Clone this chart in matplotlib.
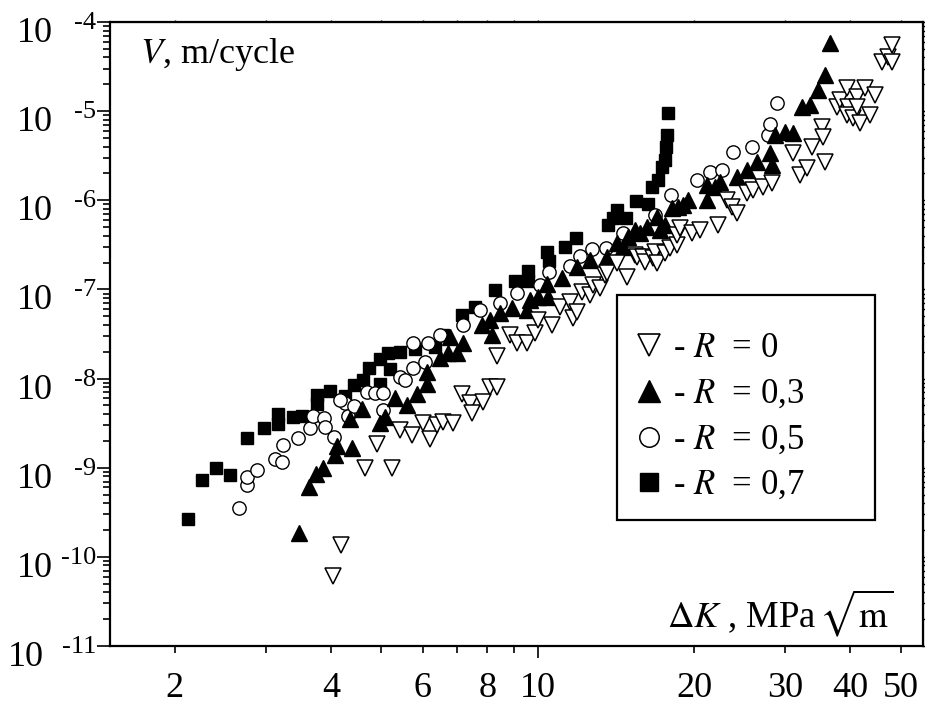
import matplotlib
matplotlib.use("Agg")
import matplotlib.pyplot as plt
from matplotlib.patches import Rectangle
from matplotlib.transforms import offset_copy

plt.rcParams["font.family"] = ["Liberation Serif", "DejaVu Serif"]
plt.rcParams["mathtext.fontset"] = "stix"

# R = 0 (open down triangles)
dk_r0 = [4.03, 4.18, 4.65, 5.24, 4.90, 5.43, 5.72, 6.21, 6.01, 6.40, 6.57, 6.87,
         7.15, 7.40, 7.47, 7.84, 8.09, 8.35, 8.35, 8.84, 9.12, 9.53, 9.88, 10.0,
         10.66, 11.04, 11.54, 11.69, 11.90, 12.17, 12.61, 12.78, 13.18, 13.48, 13.60,
         14.22, 14.86, 15.40, 15.54, 15.95, 16.10, 16.68, 16.83, 16.98, 17.59, 17.98,
         18.55, 18.55, 18.80, 19.82, 20.54, 22.25, 23.16, 23.67, 24.20, 25.30, 25.99,
         27.17, 28.28, 31.03, 32.01, 33.02, 33.76, 35.29, 35.45, 35.76, 37.72, 38.22,
         39.43, 39.6, 39.43, 40.49, 41.22, 41.22, 41.77, 42.71, 43.67, 44.65, 46.05,
         47.30, 48.15, 48.15]
v_r0 = [6.1e-11, 1.36e-10, 9.9e-10, 9.9e-10, 1.84e-9, 2.65e-9, 2.33e-9, 2.10e-9,
        3.17e-9, 3.01e-9, 3.26e-9, 3.17e-9, 6.71e-9, 5.32e-9, 4.11e-9, 5.46e-9,
        8.04e-9, 8.04e-9, 1.79e-8, 3.08e-8, 2.51e-8, 2.51e-8, 3.24e-8, 4.54e-8,
        3.99e-8, 6.35e-8, 7.22e-8, 4.78e-8, 5.58e-8, 9.36e-8, 8.66e-8, 1.12e-7,
        1.04e-7, 1.45e-7, 1.53e-7, 1.98e-7, 1.38e-7, 2.43e-7, 2.31e-7, 2.31e-7,
        2.03e-7, 2.25e-7, 2.63e-7, 1.98e-7, 2.56e-7, 2.91e-7, 3.15e-7, 4.08e-7,
        4.89e-7, 4.29e-7, 4.64e-7, 5.28e-7, 1.01e-6, 8.41e-7, 7.20e-7, 1.21e-6,
        1.30e-6, 1.41e-6, 1.56e-6, 3.39e-6, 1.92e-6, 2.30e-6, 3.96e-6, 6.64e-6,
        5.13e-6, 2.69e-6, 1.11e-5, 1.33e-5, 1.82e-5, 1.11e-5, 9.05e-6, 8.38e-6,
        1.44e-5, 1.11e-5, 7.36e-6, 1.82e-5, 9.05e-6, 1.52e-5, 3.56e-5, 4.05e-5,
        3.56e-5, 5.52e-5]

# R = 0.3 (filled up triangles)
dk_r3 = [3.47, 3.62, 3.74, 3.86, 4.07, 4.10, 4.38, 4.35, 4.59, 4.97, 5.08, 5.31,
         5.60, 5.85, 6.12, 6.12, 6.48, 6.71, 6.99, 6.77, 7.18, 7.81, 8.09, 8.16,
         8.46, 8.92, 9.53, 9.66, 10.0, 10.47, 10.42, 11.14, 11.90, 12.61, 13.60,
         14.22, 14.60, 14.93, 15.40, 15.74, 16.24, 16.98, 17.20, 17.59, 18.14, 18.63,
         19.05, 19.47, 21.19, 21.19, 21.95, 22.44, 24.20, 25.30, 26.45, 28.28, 28.03,
         28.65, 30.0, 31.03, 32.30, 33.46, 34.67, 35.76, 36.56]
v_r3 = [1.85e-10, 6.07e-10, 8.50e-10, 9.92e-10, 1.39e-9, 1.75e-9, 1.66e-9, 3.52e-9,
        4.55e-9, 3.17e-9, 3.70e-9, 6.05e-9, 5.05e-9, 6.71e-9, 8.69e-9, 1.18e-8,
        1.70e-8, 1.93e-8, 1.93e-8, 2.93e-8, 2.51e-8, 3.99e-8, 4.54e-8, 3.08e-8,
        5.44e-8, 6.19e-8, 5.88e-8, 7.61e-8, 8.22e-8, 8.22e-8, 1.15e-7, 1.34e-7,
        1.78e-7, 2.14e-7, 2.31e-7, 3.32e-7, 2.99e-7, 3.87e-7, 4.64e-7, 4.29e-7,
        5.01e-7, 6.49e-7, 4.64e-7, 5.28e-7, 8.19e-7, 8.41e-7, 8.85e-7, 1.01e-6,
        1.01e-6, 1.48e-6, 1.41e-6, 1.60e-6, 1.83e-6, 2.19e-6, 2.69e-6, 2.49e-6,
        3.39e-6, 5.40e-6, 5.83e-6, 5.68e-6, 1.11e-5, 1.17e-5, 1.73e-5, 2.54e-5,
        5.81e-5]

# R = 0.5 (open circles)
dk_r5 = [2.66, 2.76, 2.76, 2.88, 3.12, 3.22, 3.23, 3.45, 3.65, 3.69, 3.87, 3.89,
         4.05, 4.25, 4.31, 4.43, 4.16, 4.69, 4.86, 5.03, 5.03, 5.43, 5.55, 5.75,
         5.75, 6.06, 6.14, 6.48, 7.18, 7.74, 8.46, 9.12, 10.10, 10.52, 11.54, 12.06,
         12.72, 13.54, 14.60, 16.83, 18.06, 20.27, 21.47, 22.65, 23.78, 25.87, 27.78,
         28.03, 28.91]
v_r5 = [3.53e-10, 6.39e-10, 7.86e-10, 9.42e-10, 1.25e-9, 1.16e-9, 1.80e-9, 2.15e-9,
        2.79e-9, 3.80e-9, 3.61e-9, 2.86e-9, 2.21e-9, 5.32e-9, 3.80e-9, 4.92e-9,
        5.75e-9, 7.07e-9, 6.89e-9, 4.44e-9, 6.89e-9, 1.04e-8, 9.64e-9, 1.31e-8,
        2.51e-8, 1.53e-8, 2.51e-8, 3.08e-8, 3.99e-8, 5.88e-8, 7.04e-8, 9.12e-8,
        1.12e-7, 1.57e-7, 1.83e-7, 2.37e-7, 2.84e-7, 2.91e-7, 4.29e-7, 6.84e-7,
        1.15e-6, 1.69e-6, 2.08e-6, 2.19e-6, 3.48e-6, 3.96e-6, 5.40e-6, 7.17e-6,
        1.23e-5]

# R = 0.7 (filled squares)
dk_r7 = [2.12, 2.26, 2.40, 2.55, 2.75, 2.97, 3.16, 3.16, 3.38, 3.51, 3.75, 3.75,
         3.98, 4.25, 4.43, 4.61, 4.73, 4.97, 4.97, 5.15, 5.19, 5.43, 5.80, 6.34,
         6.57, 7.15, 7.57, 8.27, 9.04, 9.58, 9.58, 10.42, 10.52, 11.28, 11.85, 13.66,
         13.97, 14.22, 14.80, 15.47, 16.31, 16.60, 17.05, 17.36, 17.59, 17.70, 17.75,
         17.83]
v_r7 = [2.66e-10, 7.28e-10, 9.92e-10, 8.28e-10, 2.15e-9, 2.79e-9, 4.00e-9, 3.09e-9,
        3.70e-9, 3.80e-9, 5.18e-9, 6.54e-9, 7.25e-9, 6.37e-9, 8.47e-9, 9.64e-9,
        1.31e-8, 1.66e-8, 8.69e-9, 1.93e-8, 1.28e-8, 1.99e-8, 2.15e-8, 2.26e-8,
        3.08e-8, 5.16e-8, 6.35e-8, 9.85e-8, 1.24e-7, 1.61e-7, 1.24e-7, 2.63e-7,
        2.08e-7, 2.99e-7, 3.77e-7, 5.28e-7, 6.33e-7, 7.78e-7, 6.33e-7, 9.81e-7,
        9.08e-7, 1.41e-6, 1.69e-6, 2.36e-6, 2.83e-6, 3.96e-6, 5.40e-6, 9.53e-6]

r_labels = ["0", "0,3", "0,5", "0,7"]
xtick_minor = [2, 3, 4, 5, 6, 7, 8, 9, 20, 30, 40, 50]
xtick_minor_labels = ["2", "", "4", "", "6", "", "8", "", "20", "30", "40", "50"]
decades = [-11, -10, -9, -8, -7, -6, -5, -4]

fig = plt.figure(figsize=(9.25, 7.06), dpi=100)
ax = fig.add_axes([0.1189, 0.0850, 0.8789, 0.8838])
ax.set_xscale("log")
ax.set_yscale("log")
ax.set_xlim(1.50, 55.2)
ax.set_ylim(1e-11, 1e-4)

ax.plot(dk_r7, v_r7, ls="none", marker="s", ms=8.8, mfc="black", mec="black", zorder=3)
ax.plot(dk_r5, v_r5, ls="none", marker="o", ms=9.6, mfc="white", mec="black", mew=1.0, zorder=4)
ax.plot(dk_r3, v_r3, ls="none", marker="^", ms=11.5, mfc="black", mec="black", zorder=5)
ax.plot(dk_r0, v_r0, ls="none", marker="v", ms=12, mfc="white", mec="black", mew=1.1, zorder=6)

for s in ax.spines.values():
    s.set_linewidth(1.6)

# x ticks
ax.set_xticks([10], labels=["10"])
ax.set_xticks(xtick_minor, labels=xtick_minor_labels, minor=True)
ax.tick_params(axis="x", which="major", direction="out", length=8.6, width=1.2,
               labelsize=26, pad=10)
ax.tick_params(axis="x", which="minor", direction="out", length=5.0, width=1.2,
               labelsize=26, pad=14)

# y ticks, labels drawn as text below
ax.yaxis.set_major_locator(matplotlib.ticker.LogLocator(base=10, numticks=20))
ax.yaxis.set_minor_locator(matplotlib.ticker.LogLocator(base=10, subs=range(2, 10), numticks=20))
ax.tick_params(axis="y", which="major", direction="out", length=9.4, width=1.2, labelleft=False)
ax.tick_params(axis="y", which="minor", direction="out", length=5.0, width=1.2, labelleft=False)

sec_x = ax.secondary_xaxis("top")
sec_x.set_xticks([10] + xtick_minor, labels=[])
sec_x.tick_params(which="both", direction="out", length=1.5, width=1.0)
sec_x.xaxis.set_minor_locator(matplotlib.ticker.NullLocator())
sec_y = ax.secondary_yaxis("right")
sec_y.yaxis.set_major_locator(matplotlib.ticker.LogLocator(base=10, numticks=20))
sec_y.yaxis.set_minor_locator(matplotlib.ticker.LogLocator(base=10, subs=range(2, 10), numticks=20))
sec_y.tick_params(which="both", direction="out", length=1.5, width=1.0, labelright=False)

ytrans = ax.get_yaxis_transform()
for d in decades:
    xoff = -66 if d == -11 else -57
    t_base = offset_copy(ytrans, fig=fig, x=xoff, y=-20, units="dots")
    ax.text(0, 10.0 ** d, "10", transform=t_base, ha="right", va="baseline",
            fontsize=26, clip_on=False)
    t_sup = offset_copy(ytrans, fig=fig, x=-14, y=-7, units="dots")
    ax.text(0, 10.0 ** d, "-%d" % (-d), transform=t_sup, ha="right", va="baseline",
            fontsize=19, clip_on=False)

ax.text(0.037, 0.934, "$V$, m/cycle", transform=ax.transAxes, fontsize=26,
        ha="left", va="baseline")
ax.text(0.963, 0.029, r"$\Delta K$ , MPa$\,\sqrt{\mathrm{m}}$", transform=ax.transAxes,
        fontsize=26.5, ha="right", va="baseline")

# legend box drawn by hand to match the original layout
ax.add_patch(Rectangle((0.6236, 0.2019), 0.3174, 0.3606, transform=ax.transAxes,
                       facecolor="white", edgecolor="black", lw=1.6, zorder=10))
leg_rows = [0.4824, 0.4087, 0.3349, 0.2628]
leg_style = [dict(marker="v", ms=15.5, mfc="white", mec="black", mew=1.2),
             dict(marker="^", ms=15.5, mfc="black", mec="black"),
             dict(marker="o", ms=14, mfc="white", mec="black", mew=1.1),
             dict(marker="s", ms=12.5, mfc="black", mec="black")]
for yr, st, lab in zip(leg_rows, leg_style, r_labels):
    ax.plot([0.6630], [yr], ls="none", transform=ax.transAxes, clip_on=False,
            zorder=11, **st)
    t_txt = offset_copy(ax.transAxes, fig=fig, x=0, y=-12, units="dots")
    ax.text(0.6925, yr, "- $R$  = " + lab, transform=t_txt, fontsize=25,
            ha="left", va="baseline", zorder=11)

fig.savefig("out.png", dpi=100)
